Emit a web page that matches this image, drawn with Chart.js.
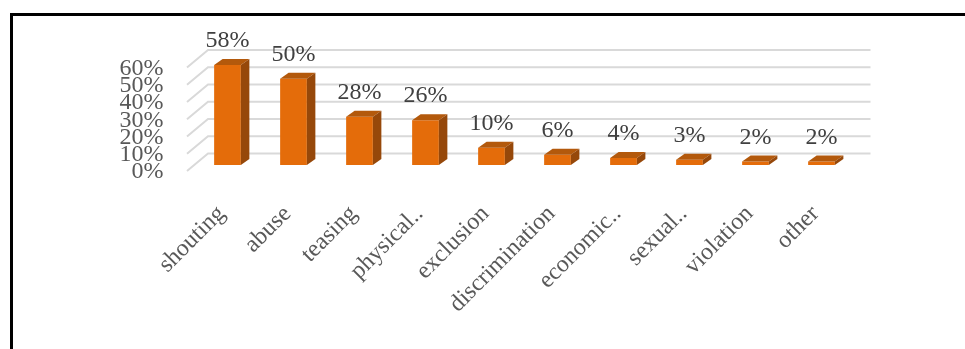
<!DOCTYPE html>
<html>
<head>
<meta charset="utf-8">
<script src="https://cdn.jsdelivr.net/npm/chart.js@4"></script>
<style>
html,body{margin:0;padding:0;background:#fff;}
#wrap{position:relative;width:965px;height:349px;}
canvas{display:block;}
</style>
</head>
<body>
<div id="wrap"><canvas id="c" width="965" height="349"></canvas></div>
<script>
const categories = ["shouting","abuse","teasing","physical..","exclusion","discrimination","economic..","sexual..","violation","other"];
const values = [58, 50, 28, 26, 10, 6, 4, 3, 2, 2];
const yTicks = [0, 10, 20, 30, 40, 50, 60];

const FONT = "'Liberation Serif', serif";
const DEPTH_X = 8.5, DEPTH_Y = 6;

const gridPlugin = {
  id: 'grid3d',
  beforeDatasetsDraw(chart) {
    const ctx = chart.ctx, y = chart.scales.y, a = chart.chartArea;
    ctx.save();
    ctx.strokeStyle = '#d9d9d9';
    ctx.lineWidth = 2;
    yTicks.forEach(v => {
      const py = y.getPixelForValue(v);
      ctx.beginPath();
      ctx.moveTo(a.left - 7.5, py + 6);
      ctx.lineTo(a.left + 13.5, py - 11.5);
      ctx.lineTo(a.right + 16, py - 11.5);
      ctx.stroke();
    });
    ctx.restore();
  },
  afterDatasetsDraw(chart) {
    const ctx = chart.ctx;
    const meta = chart.getDatasetMeta(0);
    ctx.save();
    meta.data.forEach((bar, i) => {
      const w = bar.width, l = bar.x - w / 2, r = bar.x + w / 2, t = bar.y, b = bar.base;
      ctx.fillStyle = '#b3590c';
      ctx.beginPath();
      ctx.moveTo(l, t); ctx.lineTo(r, t); ctx.lineTo(r + DEPTH_X, t - DEPTH_Y); ctx.lineTo(l + DEPTH_X, t - DEPTH_Y);
      ctx.closePath(); ctx.fill();
      ctx.fillStyle = '#96480a';
      ctx.beginPath();
      ctx.moveTo(r, t); ctx.lineTo(r + DEPTH_X, t - DEPTH_Y); ctx.lineTo(r + DEPTH_X, b - DEPTH_Y); ctx.lineTo(r, b);
      ctx.closePath(); ctx.fill();
      ctx.fillStyle = '#404040';
      ctx.font = "24px " + FONT;
      ctx.textAlign = 'center';
      ctx.textBaseline = 'middle';
      ctx.fillText(values[i] + '%', bar.x, t - 24);
    });
    ctx.restore();
  },
  afterDraw(chart) {
    const ctx = chart.ctx;
    ctx.save();
    ctx.fillStyle = '#000';
    ctx.fillRect(10, 13, 955, 3);
    ctx.fillRect(10, 13, 3, 336);
    ctx.restore();
  }
};

new Chart(document.getElementById('c'), {
  type: 'bar',
  data: {
    labels: categories,
    datasets: [{
      data: values,
      backgroundColor: '#e46c0a',
      borderWidth: 0,
      barPercentage: 0.405,
      categoryPercentage: 1.0
    }]
  },
  options: {
    responsive: false,
    animation: false,
    events: [],
    layout: { padding: { left: 0, right: 110.5, top: 61.6, bottom: 0 } },
    plugins: { legend: { display: false }, tooltip: { enabled: false } },
    scales: {
      x: {
        grid: { display: false, drawTicks: false },
        border: { display: false },
        ticks: {
          autoSkip: false, minRotation: 45, maxRotation: 45,
          color: '#595959', font: { family: FONT, size: 24 }, padding: 35, labelOffset: -6
        },
        afterFit(s) { s.height = 349 - 165; }
      },
      y: {
        min: 0, max: 60,
        grid: { display: false, drawTicks: false },
        border: { display: false },
        afterBuildTicks(s) { s.ticks = yTicks.map(v => ({ value: v })); },
        ticks: {
          autoSkip: false,
          color: '#595959', font: { family: FONT, size: 24 }, padding: 31, labelOffset: 7,
          callback: v => v + '%'
        },
        afterFit(s) { s.width = 194.5; }
      }
    }
  },
  plugins: [gridPlugin]
});
</script>
</body>
</html>
